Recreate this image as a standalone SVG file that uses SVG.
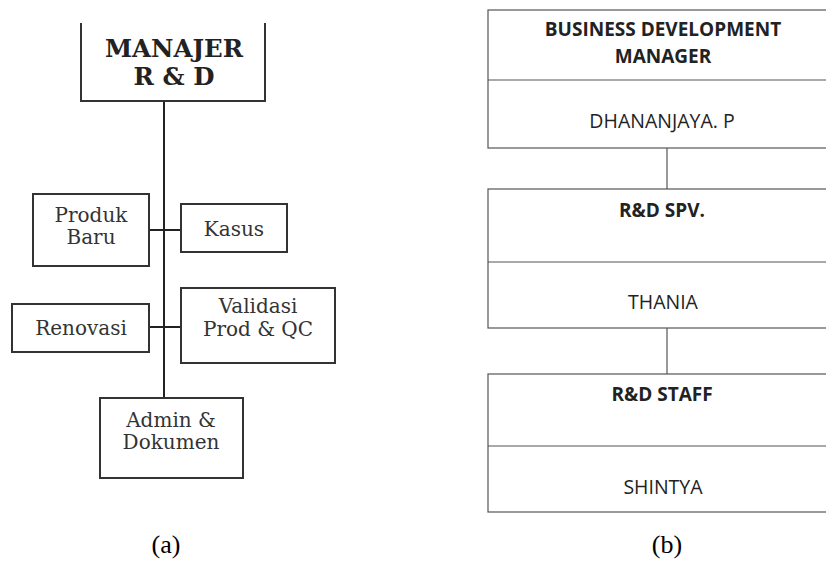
<svg xmlns="http://www.w3.org/2000/svg" width="826" height="564" viewBox="0 0 826 564">
<style>
.lb{fill:#fff;stroke:#333;stroke-width:2}
.lc{stroke:#222;stroke-width:2;fill:none}
.rb{fill:#fff;stroke:#555;stroke-width:1.2}
.rc{stroke:#555;stroke-width:1.2;fill:none}
.st{font-family:"DejaVu Serif",serif;font-size:20px;fill:#333;text-anchor:middle}
.sh{font-family:"DejaVu Serif",serif;font-size:24.5px;font-weight:bold;fill:#222;text-anchor:middle}
.ct{font-family:"Open Sans","Liberation Sans",sans-serif;font-size:19.5px;fill:#222;text-anchor:middle}
.cb{font-weight:bold;font-size:19px}
.cap{font-family:"Liberation Serif",serif;font-size:26px;fill:#000;text-anchor:middle}
</style>
<rect width="826" height="564" fill="#fff"/>
<g id="connectors">
<line class="lc" x1="164" y1="101" x2="164" y2="398"/>
<line class="lc" x1="149" y1="230" x2="181" y2="230"/>
<line class="lc" x1="149" y1="327" x2="181" y2="327"/>
<line class="rc" x1="667" y1="148" x2="667" y2="189"/>
<line class="rc" x1="667" y1="328" x2="667" y2="374"/>
</g>
<g id="manajer">
<path class="lb" d="M81,23 V101 H265 V23"/>
<text class="sh" x="174" y="57">MANAJER</text>
<text class="sh" x="174" y="85">R &amp; D</text>
</g>
<g id="produk-baru">
<rect class="lb" x="33" y="194" width="116" height="72"/>
<text class="st" x="91" y="222">Produk</text>
<text class="st" x="91" y="244">Baru</text>
</g>
<g id="kasus">
<rect class="lb" x="181" y="204" width="106" height="48"/>
<text class="st" x="234" y="236">Kasus</text>
</g>
<g id="renovasi">
<rect class="lb" x="12" y="304" width="137" height="48"/>
<text class="st" x="81" y="335">Renovasi</text>
</g>
<g id="validasi">
<rect class="lb" x="181" y="288" width="154" height="75"/>
<text class="st" x="258" y="313">Validasi</text>
<text class="st" x="258" y="336">Prod &amp; QC</text>
</g>
<g id="admin">
<rect class="lb" x="100" y="398" width="143" height="80"/>
<text class="st" x="171" y="427">Admin &amp;</text>
<text class="st" x="171" y="449">Dokumen</text>
</g>
<g id="bdm">
<rect class="rb" x="488" y="10" width="346" height="138"/>
<line class="rc" x1="488" y1="80" x2="834" y2="80"/>
<text class="ct cb" x="663" y="36">BUSINESS DEVELOPMENT</text>
<text class="ct cb" x="663" y="63">MANAGER</text>
<text class="ct" x="662" y="128">DHANANJAYA. P</text>
</g>
<g id="spv">
<rect class="rb" x="488" y="189" width="346" height="139"/>
<line class="rc" x1="488" y1="262" x2="834" y2="262"/>
<text class="ct cb" x="662" y="217">R&amp;D SPV.</text>
<text class="ct" x="663" y="309">THANIA</text>
</g>
<g id="staff">
<rect class="rb" x="488" y="374" width="346" height="138"/>
<line class="rc" x1="488" y1="446" x2="834" y2="446"/>
<text class="ct cb" x="662" y="401">R&amp;D STAFF</text>
<text class="ct" x="663" y="494">SHINTYA</text>
</g>
<text class="cap" x="166" y="553">(a)</text>
<text class="cap" x="667" y="553">(b)</text>
</svg>
